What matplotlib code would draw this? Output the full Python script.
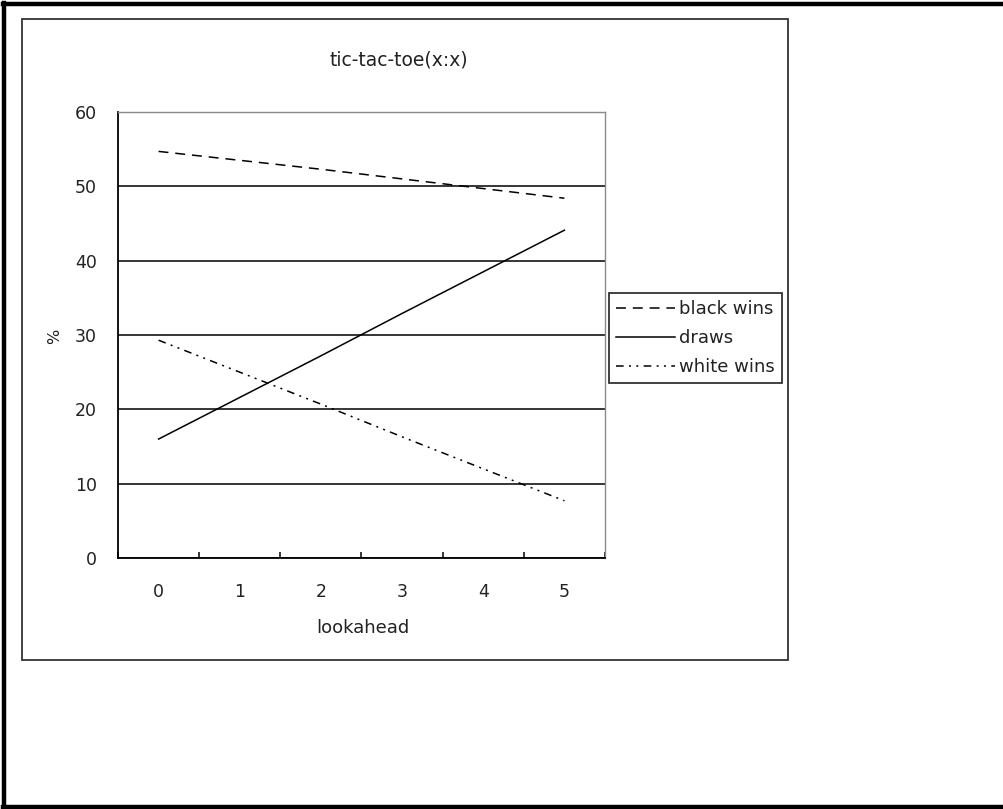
import matplotlib
matplotlib.use("Agg")
import matplotlib.pyplot as plt
from matplotlib.patches import Rectangle
from matplotlib.lines import Line2D

# values (percent of games)
lookahead = [0, 1, 2, 3, 4, 5]
black_wins = [54.7, 53.5, 52.3, 51.0, 49.7, 48.4]
draws = [16.0, 21.6, 27.2, 32.9, 38.5, 44.1]
white_wins = [29.3, 25.0, 20.7, 16.3, 12.0, 7.7]

W, H = 1004, 809
TXT = "#222222"
plt.rcParams['font.family'] = ['DejaVu Sans']

fig = plt.figure(figsize=(W / 100, H / 100), dpi=100)

def fx(px):
    return px / W

def fy(py):
    return 1 - py / H

# outer frame (top, left, bottom)
for xs, ys in [((3, 1004), (4, 4)), ((4, 4), (3, 807)), ((3, 1004), (806.5, 806.5))]:
    fig.add_artist(Line2D([fx(x) for x in xs], [fy(y) for y in ys], color="black", lw=3.2))

# chart area box
fig.add_artist(Rectangle((fx(22), fy(660)), fx(788) - fx(22), fy(19) - fy(660),
                         fill=False, ec="#333333", lw=1.3, transform=fig.transFigure))

ax = fig.add_axes([fx(118), fy(558), fx(605) - fx(118), fy(112) - fy(558)])
ax.plot(lookahead, black_wins, color="black", lw=1.1, dashes=(6.5, 4.5), label="black wins")
ax.plot(lookahead, draws, color="black", lw=1.1, label="draws")
ax.plot(lookahead, white_wins, color="black", lw=1.1,
        dashes=(5, 3.5, 1.3, 3.5, 1.3, 3.5), label="white wins")

ax.set_xlim(-0.5, 5.5)
ax.set_ylim(0, 60)
ax.set_yticks(range(0, 61, 10))
ax.yaxis.grid(True, color="black", lw=1.1)
ax.set_axisbelow(True)
ax.set_xticks(lookahead)
ax.set_xticks([i - 0.5 for i in range(7)], minor=True)
ax.tick_params(axis="x", which="major", length=0, pad=18, labelsize=12.5, labelcolor=TXT)
ax.tick_params(axis="x", which="minor", direction="in", length=4.5, width=1.1)
ax.tick_params(axis="y", length=0, pad=15, labelsize=12.5, labelcolor=TXT)

for s in ("left", "bottom"):
    ax.spines[s].set_color("black")
    ax.spines[s].set_linewidth(1.3)
for s in ("top", "right"):
    ax.spines[s].set_color("#8a8a8a")
    ax.spines[s].set_linewidth(1.0)

fig.text(fx(399), fy(60), "tic-tac-toe(x:x)", ha="center", va="center", fontsize=13.5, color=TXT)
fig.text(fx(363), fy(628), "lookahead", ha="center", va="center", fontsize=13, color=TXT)
fig.text(fx(55), fy(336), "%", ha="center", va="center", fontsize=11.5, color=TXT, rotation=90)

leg = ax.legend(loc="upper left", bbox_to_anchor=(fx(609), fy(293)),
                bbox_transform=fig.transFigure, fontsize=13, frameon=True,
                fancybox=False, borderpad=0.38, handlelength=3.3, handletextpad=0.2,
                labelspacing=0.62, borderaxespad=0)
leg.get_frame().set_edgecolor("black")
leg.get_frame().set_linewidth(1.3)
for t in leg.get_texts():
    t.set_color(TXT)

fig.savefig("out.png", dpi=100, facecolor="white")
